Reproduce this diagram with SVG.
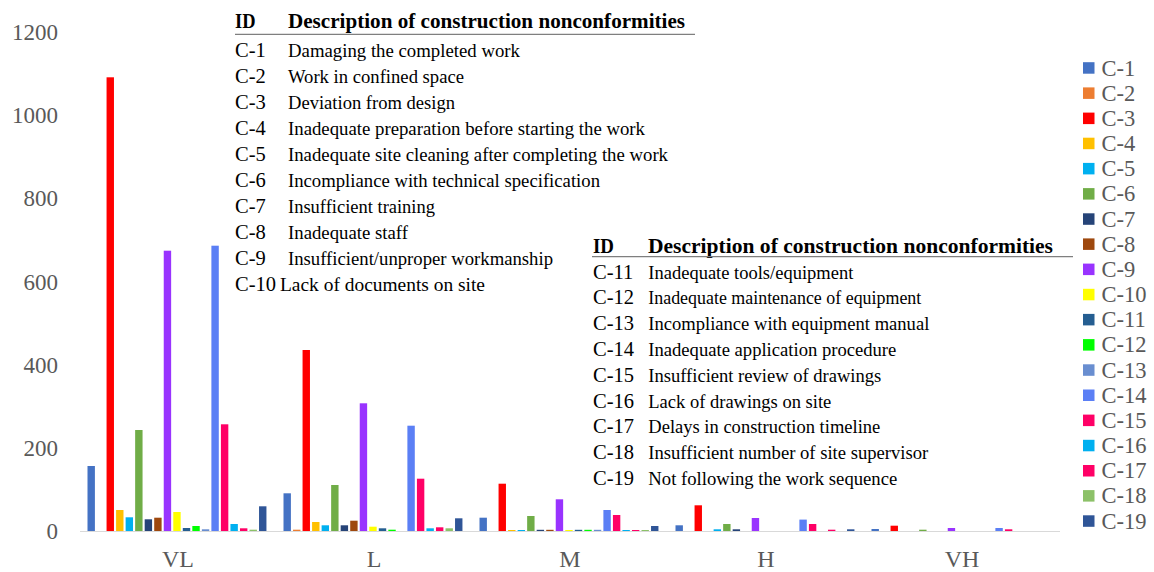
<svg xmlns="http://www.w3.org/2000/svg" width="1154" height="572" viewBox="0 0 1154 572">
  <style>
    .ax { font-family: "Liberation Serif", "Times New Roman", serif; font-size: 23px; fill: #595959; }
    .cat { font-family: "Liberation Serif", "Times New Roman", serif; font-size: 24px; fill: #595959; text-anchor: middle; }
    .lg { font-family: "Liberation Serif", "Times New Roman", serif; font-size: 22.5px; fill: #595959; }
    .tb { font-family: "Liberation Serif", "Times New Roman", serif; font-size: 19px; fill: #000; }
    .id { font-size: 20.5px; }
    .th { font-family: "Liberation Serif", "Times New Roman", serif; font-size: 21px; font-weight: bold; fill: #000; }
    .rule { stroke: #7f7f7f; stroke-width: 1.3; }
    .c1 { fill: #4472C4; } .c2 { fill: #ED7D31; } .c3 { fill: #FF0000; } .c4 { fill: #FFC000; }
    .c5 { fill: #00B0F0; } .c6 { fill: #70AD47; } .c7 { fill: #264478; } .c8 { fill: #9E480E; }
    .c9 { fill: #9933FF; } .c10 { fill: #FFFF00; } .c11 { fill: #255E91; } .c12 { fill: #00FF00; }
    .c13 { fill: #698ED0; } .c14 { fill: #5B7FF5; } .c15 { fill: #FF0066; } .c16 { fill: #00B0F0; }
    .c17 { fill: #FF0066; } .c18 { fill: #8CC168; } .c19 { fill: #2F5597; }
  </style>
  <rect width="1154" height="572" fill="#fff"/>

  <!-- value axis labels -->
  <g id="y-axis" class="ax" text-anchor="end">
    <text x="58" y="40">1200</text>
    <text x="58" y="123">1000</text>
    <text x="58" y="206">800</text>
    <text x="58" y="289.5">600</text>
    <text x="58" y="372.5">400</text>
    <text x="58" y="455.5">200</text>
    <text x="58" y="538.5">0</text>
  </g>

  <!-- category axis -->
  <g id="x-axis">
    <line x1="80" y1="531.5" x2="1060" y2="531.5" stroke="#D9D9D9" stroke-width="1"/>
    <text class="cat" x="178" y="567">VL</text>
    <text class="cat" x="374" y="567">L</text>
    <text class="cat" x="570" y="567">M</text>
    <text class="cat" x="766" y="567">H</text>
    <text class="cat" x="962" y="567">VH</text>
  </g>

  <!-- clustered bars, one group per category, origin at the baseline -->
  <g id="bars">
    <g id="bars-VL" transform="translate(87.5,531)">
      <rect class="c1" x="0" y="-65" width="7.4" height="65"/>
      <rect class="c3" x="19.06" y="-453.7" width="7.4" height="453.7"/>
      <rect class="c4" x="28.59" y="-21" width="7.4" height="21"/>
      <rect class="c5" x="38.12" y="-13.7" width="7.4" height="13.7"/>
      <rect class="c6" x="47.65" y="-101" width="7.4" height="101"/>
      <rect class="c7" x="57.18" y="-11.7" width="7.4" height="11.7"/>
      <rect class="c8" x="66.71" y="-13.3" width="7.4" height="13.3"/>
      <rect class="c9" x="76.24" y="-280.3" width="7.4" height="280.3"/>
      <rect class="c10" x="85.77" y="-19" width="7.4" height="19"/>
      <rect class="c11" x="95.3" y="-3" width="7.4" height="3"/>
      <rect class="c12" x="104.83" y="-5" width="7.4" height="5"/>
      <rect class="c13" x="114.36" y="-1.7" width="7.4" height="1.7"/>
      <rect class="c14" x="123.89" y="-285.3" width="7.4" height="285.3"/>
      <rect class="c15" x="133.42" y="-106.7" width="7.4" height="106.7"/>
      <rect class="c16" x="142.95" y="-7" width="7.4" height="7"/>
      <rect class="c17" x="152.48" y="-2.7" width="7.4" height="2.7"/>
      <rect class="c18" x="162.01" y="-1.3" width="7.4" height="1.3"/>
      <rect class="c19" x="171.54" y="-24.7" width="7.4" height="24.7"/>
    </g>
    <g id="bars-L" transform="translate(283.5,531)">
      <rect class="c1" x="0" y="-37.7" width="7.4" height="37.7"/>
      <rect class="c2" x="9.53" y="-1.3" width="7.4" height="1.3"/>
      <rect class="c3" x="19.06" y="-181" width="7.4" height="181"/>
      <rect class="c4" x="28.59" y="-9" width="7.4" height="9"/>
      <rect class="c5" x="38.12" y="-5.7" width="7.4" height="5.7"/>
      <rect class="c6" x="47.65" y="-46" width="7.4" height="46"/>
      <rect class="c7" x="57.18" y="-5.7" width="7.4" height="5.7"/>
      <rect class="c8" x="66.71" y="-10.3" width="7.4" height="10.3"/>
      <rect class="c9" x="76.24" y="-127.7" width="7.4" height="127.7"/>
      <rect class="c10" x="85.77" y="-4.3" width="7.4" height="4.3"/>
      <rect class="c11" x="95.3" y="-2.7" width="7.4" height="2.7"/>
      <rect class="c12" x="104.83" y="-1.3" width="7.4" height="1.3"/>
      <rect class="c14" x="123.89" y="-105.3" width="7.4" height="105.3"/>
      <rect class="c15" x="133.42" y="-52.3" width="7.4" height="52.3"/>
      <rect class="c16" x="142.95" y="-2.7" width="7.4" height="2.7"/>
      <rect class="c17" x="152.48" y="-3.7" width="7.4" height="3.7"/>
      <rect class="c18" x="162.01" y="-2.7" width="7.4" height="2.7"/>
      <rect class="c19" x="171.54" y="-12.7" width="7.4" height="12.7"/>
    </g>
    <g id="bars-M" transform="translate(479.5,531)">
      <rect class="c1" x="0" y="-13.3" width="7.4" height="13.3"/>
      <rect class="c3" x="19.06" y="-47.3" width="7.4" height="47.3"/>
      <rect class="c4" x="28.59" y="-1" width="7.4" height="1"/>
      <rect class="c5" x="38.12" y="-1" width="7.4" height="1"/>
      <rect class="c6" x="47.65" y="-15" width="7.4" height="15"/>
      <rect class="c7" x="57.18" y="-1.2" width="7.4" height="1.2"/>
      <rect class="c8" x="66.71" y="-1.2" width="7.4" height="1.2"/>
      <rect class="c9" x="76.24" y="-31.7" width="7.4" height="31.7"/>
      <rect class="c10" x="85.77" y="-1" width="7.4" height="1"/>
      <rect class="c11" x="95.3" y="-1.2" width="7.4" height="1.2"/>
      <rect class="c12" x="104.83" y="-1.2" width="7.4" height="1.2"/>
      <rect class="c13" x="114.36" y="-1.2" width="7.4" height="1.2"/>
      <rect class="c14" x="123.89" y="-21" width="7.4" height="21"/>
      <rect class="c15" x="133.42" y="-16" width="7.4" height="16"/>
      <rect class="c16" x="142.95" y="-1" width="7.4" height="1"/>
      <rect class="c17" x="152.48" y="-1" width="7.4" height="1"/>
      <rect class="c18" x="162.01" y="-1" width="7.4" height="1"/>
      <rect class="c19" x="171.54" y="-5" width="7.4" height="5"/>
    </g>
    <g id="bars-H" transform="translate(675.5,531)">
      <rect class="c1" x="0" y="-5.7" width="7.4" height="5.7"/>
      <rect class="c3" x="19.06" y="-25.7" width="7.4" height="25.7"/>
      <rect class="c5" x="38.12" y="-1.7" width="7.4" height="1.7"/>
      <rect class="c6" x="47.65" y="-7" width="7.4" height="7"/>
      <rect class="c7" x="57.18" y="-1.7" width="7.4" height="1.7"/>
      <rect class="c9" x="76.24" y="-13" width="7.4" height="13"/>
      <rect class="c14" x="123.89" y="-11.4" width="7.4" height="11.4"/>
      <rect class="c15" x="133.42" y="-7" width="7.4" height="7"/>
      <rect class="c17" x="152.48" y="-1.3" width="7.4" height="1.3"/>
      <rect class="c19" x="171.54" y="-1.7" width="7.4" height="1.7"/>
    </g>
    <g id="bars-VH" transform="translate(871.5,531)">
      <rect class="c1" x="0" y="-2" width="7.4" height="2"/>
      <rect class="c3" x="19.06" y="-5.3" width="7.4" height="5.3"/>
      <rect class="c6" x="47.65" y="-1.3" width="7.4" height="1.3"/>
      <rect class="c9" x="76.24" y="-3" width="7.4" height="3"/>
      <rect class="c14" x="123.89" y="-3" width="7.4" height="3"/>
      <rect class="c15" x="133.42" y="-1.7" width="7.4" height="1.7"/>
    </g>
  </g>

  <!-- series legend -->
  <g id="legend">
    <rect class="c1" x="1083" y="62.2" width="11.5" height="11.5"/><text class="lg" x="1101.5" y="75.5">C-1</text>
    <rect class="c2" x="1083" y="87.4" width="11.5" height="11.5"/><text class="lg" x="1101.5" y="100.7">C-2</text>
    <rect class="c3" x="1083" y="112.6" width="11.5" height="11.5"/><text class="lg" x="1101.5" y="125.8">C-3</text>
    <rect class="c4" x="1083" y="137.7" width="11.5" height="11.5"/><text class="lg" x="1101.5" y="151">C-4</text>
    <rect class="c5" x="1083" y="162.9" width="11.5" height="11.5"/><text class="lg" x="1101.5" y="176.2">C-5</text>
    <rect class="c6" x="1083" y="188.1" width="11.5" height="11.5"/><text class="lg" x="1101.5" y="201.4">C-6</text>
    <rect class="c7" x="1083" y="213.3" width="11.5" height="11.5"/><text class="lg" x="1101.5" y="226.5">C-7</text>
    <rect class="c8" x="1083" y="238.4" width="11.5" height="11.5"/><text class="lg" x="1101.5" y="251.7">C-8</text>
    <rect class="c9" x="1083" y="263.6" width="11.5" height="11.5"/><text class="lg" x="1101.5" y="276.9">C-9</text>
    <rect class="c10" x="1083" y="288.8" width="11.5" height="11.5"/><text class="lg" x="1101.5" y="302">C-10</text>
    <rect class="c11" x="1083" y="313.9" width="11.5" height="11.5"/><text class="lg" x="1101.5" y="327.2">C-11</text>
    <rect class="c12" x="1083" y="339.1" width="11.5" height="11.5"/><text class="lg" x="1101.5" y="352.4">C-12</text>
    <rect class="c13" x="1083" y="364.3" width="11.5" height="11.5"/><text class="lg" x="1101.5" y="377.5">C-13</text>
    <rect class="c14" x="1083" y="389.5" width="11.5" height="11.5"/><text class="lg" x="1101.5" y="402.7">C-14</text>
    <rect class="c15" x="1083" y="414.6" width="11.5" height="11.5"/><text class="lg" x="1101.5" y="427.9">C-15</text>
    <rect class="c16" x="1083" y="439.8" width="11.5" height="11.5"/><text class="lg" x="1101.5" y="453.1">C-16</text>
    <rect class="c17" x="1083" y="465" width="11.5" height="11.5"/><text class="lg" x="1101.5" y="478.2">C-17</text>
    <rect class="c18" x="1083" y="490.1" width="11.5" height="11.5"/><text class="lg" x="1101.5" y="503.4">C-18</text>
    <rect class="c19" x="1083" y="515.3" width="11.5" height="11.5"/><text class="lg" x="1101.5" y="528.6">C-19</text>
  </g>

  <!-- description table, codes C-1 to C-10 -->
  <g id="table-1">
    <text class="th" x="235" y="27.5" textLength="20.5" lengthAdjust="spacingAndGlyphs">ID</text>
    <text class="th" x="288" y="27.5" textLength="397" lengthAdjust="spacingAndGlyphs">Description of construction nonconformities</text>
    <line class="rule" x1="235" y1="34.3" x2="695" y2="34.3"/>
    <g class="tb">
      <text class="id" x="235" y="56.5">C-1</text><text x="288" y="56.5" textLength="232" lengthAdjust="spacingAndGlyphs">Damaging the completed work</text>
      <text class="id" x="235" y="82.5">C-2</text><text x="288" y="82.5" textLength="176" lengthAdjust="spacingAndGlyphs">Work in confined space</text>
      <text class="id" x="235" y="108.6">C-3</text><text x="288" y="108.6" textLength="167" lengthAdjust="spacingAndGlyphs">Deviation from design</text>
      <text class="id" x="235" y="134.6">C-4</text><text x="288" y="134.6" textLength="357" lengthAdjust="spacingAndGlyphs">Inadequate preparation before starting the work</text>
      <text class="id" x="235" y="160.7">C-5</text><text x="288" y="160.7" textLength="380" lengthAdjust="spacingAndGlyphs">Inadequate site cleaning after completing the work</text>
      <text class="id" x="235" y="186.7">C-6</text><text x="288" y="186.7" textLength="312" lengthAdjust="spacingAndGlyphs">Incompliance with technical specification</text>
      <text class="id" x="235" y="212.8">C-7</text><text x="288" y="212.8" textLength="147" lengthAdjust="spacingAndGlyphs">Insufficient training</text>
      <text class="id" x="235" y="238.8">C-8</text><text x="288" y="238.8" textLength="120" lengthAdjust="spacingAndGlyphs">Inadequate staff</text>
      <text class="id" x="235" y="264.9">C-9</text><text x="288" y="264.9" textLength="265" lengthAdjust="spacingAndGlyphs">Insufficient/unproper workmanship</text>
      <text class="id" x="235" y="290.9">C-10</text><text x="280" y="290.9" textLength="205" lengthAdjust="spacingAndGlyphs">Lack of documents on site</text>
    </g>
  </g>

  <!-- description table, codes C-11 to C-19 -->
  <g id="table-2">
    <text class="th" x="593" y="252.5" textLength="21" lengthAdjust="spacingAndGlyphs">ID</text>
    <text class="th" x="648" y="252.5" textLength="405" lengthAdjust="spacingAndGlyphs">Description of construction nonconformities</text>
    <line class="rule" x1="592" y1="256.7" x2="1073" y2="256.7"/>
    <g class="tb">
      <text class="id" x="593" y="278.5">C-11</text><text x="648.3" y="278.5" textLength="205" lengthAdjust="spacingAndGlyphs">Inadequate tools/equipment</text>
      <text class="id" x="593" y="304.3">C-12</text><text x="648.3" y="304.3" textLength="273" lengthAdjust="spacingAndGlyphs">Inadequate maintenance of equipment</text>
      <text class="id" x="593" y="330.1">C-13</text><text x="648.3" y="330.1" textLength="281" lengthAdjust="spacingAndGlyphs">Incompliance with equipment manual</text>
      <text class="id" x="593" y="355.9">C-14</text><text x="648.3" y="355.9" textLength="248" lengthAdjust="spacingAndGlyphs">Inadequate application procedure</text>
      <text class="id" x="593" y="381.7">C-15</text><text x="648.3" y="381.7" textLength="233" lengthAdjust="spacingAndGlyphs">Insufficient review of drawings</text>
      <text class="id" x="593" y="407.5">C-16</text><text x="648.3" y="407.5" textLength="183" lengthAdjust="spacingAndGlyphs">Lack of drawings on site</text>
      <text class="id" x="593" y="433.3">C-17</text><text x="648.3" y="433.3" textLength="232" lengthAdjust="spacingAndGlyphs">Delays in construction timeline</text>
      <text class="id" x="593" y="459.1">C-18</text><text x="648.3" y="459.1" textLength="280" lengthAdjust="spacingAndGlyphs">Insufficient number of site supervisor</text>
      <text class="id" x="593" y="484.9">C-19</text><text x="648.3" y="484.9" textLength="249" lengthAdjust="spacingAndGlyphs">Not following the work sequence</text>
    </g>
  </g>
</svg>
